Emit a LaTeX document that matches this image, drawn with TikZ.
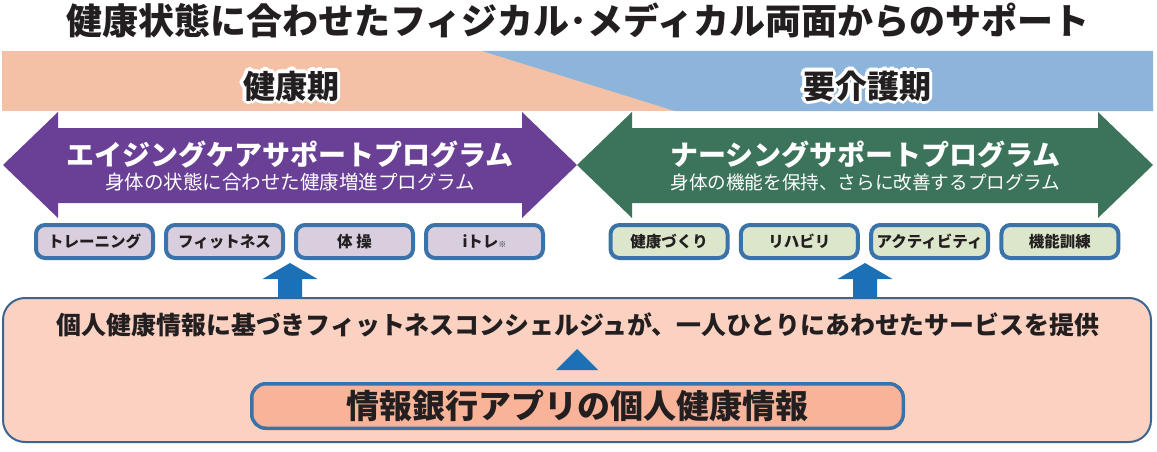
\documentclass[tikz,border=0pt]{standalone}
\usepackage{fontspec}
\setmainfont{Noto Sans CJK JP}
\usepackage{xcolor}
\usetikzlibrary{positioning}
\newcommand\halotext[1]{{\color{white}\foreach \a in {0,30,...,330}{\pgfmathsetmacro\hx{3.2*cos(\a)}\pgfmathsetmacro\hy{3.2*sin(\a)}\rlap{\hspace*{\hx pt}\raisebox{\hy pt}{#1}}}}#1}
\definecolor{txt}{HTML}{231F20}
\definecolor{bandpink}{HTML}{F4C1A7}
\definecolor{bandblue}{HTML}{8DB4DA}
\definecolor{agingpurple}{HTML}{6A4096}
\definecolor{nursegreen}{HTML}{3B745A}
\definecolor{lavfill}{HTML}{D8CEDE}
\definecolor{mintfill}{HTML}{DCE6CB}
\definecolor{boxblue}{HTML}{3A73A9}
\definecolor{arrowblue}{HTML}{1B70B6}
\definecolor{conciergefill}{HTML}{FBD1C1}
\definecolor{conciergeline}{HTML}{3E6590}
\definecolor{appfill}{HTML}{F9B398}
\tikzset{
	period/.style={text=txt,font=\fontsize{32}{32}\selectfont\bfseries},
	prog/.style={text=white,font=\fontsize{28}{28}\selectfont\bfseries},
	progsub/.style={text=white,font=\fontsize{19.5}{19.5}\selectfont},
	menubox/.style={draw=boxblue,line width=4pt,rounded corners=9pt,minimum width=117pt,minimum height=33pt,text=txt,font=\fontsize{15.5}{15.5}\selectfont\bfseries}
}
\begin{document}
\begin{tikzpicture}[x=1pt,y=-1pt,every node/.style={inner sep=0pt}]
	\useasboundingbox (0,0) rectangle (1157,452);
	\node[text=txt,font=\fontsize{36}{36}\selectfont\bfseries] (title) at (578,20) {健康状態に合わせたフィジカル･メディカル両面からのサポート};
	% band
	\fill[bandpink] (2,51) rectangle (1153,111);
	\fill[bandblue] (482,51) -- (1153,51) -- (1153,111) -- (675,111) -- cycle;
	\node[period] (healthy) at (291,86) {\halotext{健康期}};
	\node[period] (care) at (867,86) {\halotext{要介護期}};
	% double arrows
	\foreach \l/\r/\c in {3/577/agingpurple,577/1153/nursegreen}
	\fill[\c] (\l,165) -- (\l+55,112) -- (\l+55,128) -- (\r-55,128) -- (\r-55,112) -- (\r,165) -- (\r-55,218) -- (\r-55,203) -- (\l+55,203) -- (\l+55,218) -- cycle;
	\node[prog] (aging) at (290,155) {エイジングケアサポートプログラム};
	\node[progsub] (agingsub) at (290,182.5) {身体の状態に合わせた健康増進プログラム};
	\node[prog] (nursing) at (865.5,155) {ナーシングサポートプログラム};
	\node[progsub,font=\fontsize{18.6}{18.6}\selectfont] (nursingsub) at (865.5,182.5) {身体の機能を保持、さらに改善するプログラム};
	% menus
	\foreach \t [count=\i from 0] in {トレーニング,フィットネス,体 操,iトレ{\fontsize{8}{8}\selectfont ※}}
	\node[menubox,fill=lavfill] (aging\i) at (94.5+130*\i,241.5) {\t};
	\foreach \t [count=\i from 0] in {健康づくり,リハビリ,アクティビティ,機能訓練}
	\node[menubox,fill=mintfill] (nursing\i) at (669+130.3*\i,241.5) {\t};
	% up arrows
	\foreach \x in {290,865}
	\fill[arrowblue] (\x-12,300) -- (\x-12,279) -- (\x-27.5,279) -- (\x,263) -- (\x+27.5,279) -- (\x+12,279) -- (\x+12,300) -- cycle;
	% concierge
	\node[draw=conciergeline,line width=2pt,fill=conciergefill,rounded corners=22pt,minimum width=1148pt,minimum height=144pt] (concierge) at (577,370) {};
	\node[text=txt,font=\fontsize{24.9}{24.9}\selectfont\bfseries] (service) at (578,324.5) {個人健康情報に基づきフィットネスコンシェルジュが、一人ひとりにあわせたサービスを提供};
	\fill[arrowblue] (556,370) -- (577,349) -- (598,370) -- cycle;
	\node[draw=boxblue,line width=3.5pt,fill=appfill,rounded corners=14pt,minimum width=651.5pt,minimum height=44.5pt,text=txt,font=\fontsize{33}{33}\selectfont\bfseries] (app) at (577.5,406) {情報銀行アプリの個人健康情報};
\end{tikzpicture}
\end{document}
